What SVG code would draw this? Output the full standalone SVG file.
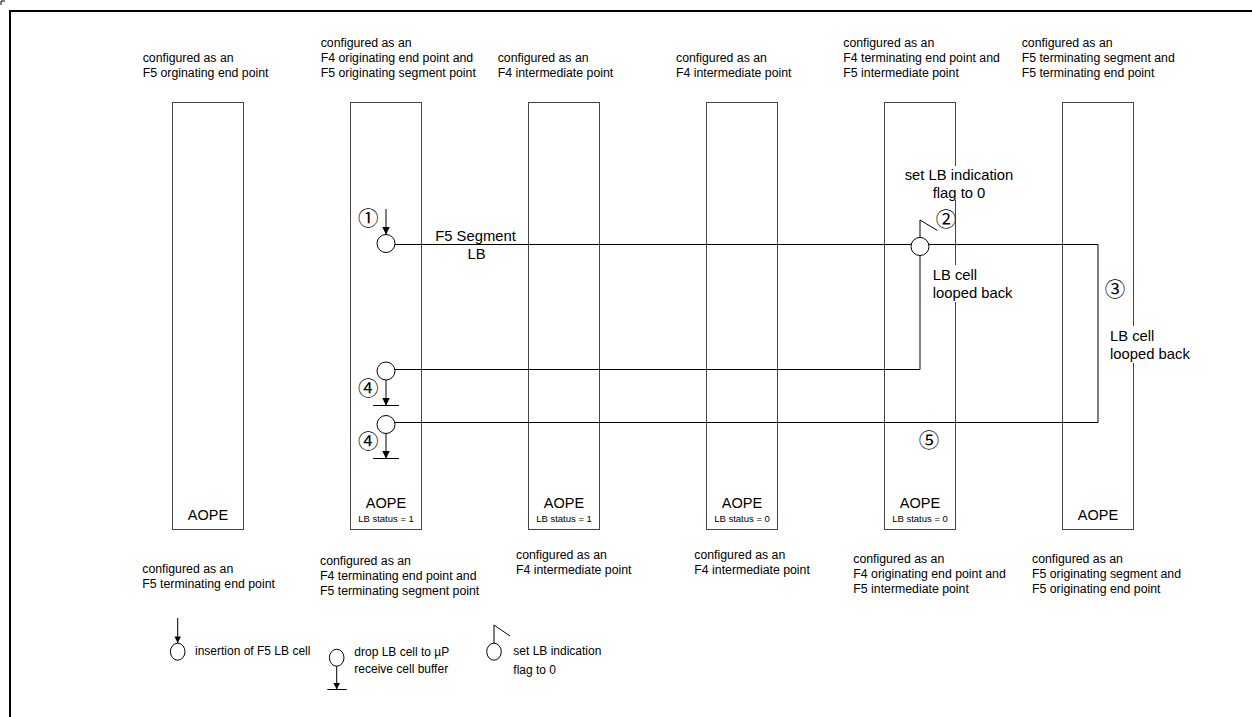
<svg xmlns="http://www.w3.org/2000/svg" width="1252" height="717" viewBox="0 0 1252 717">
<style>
.bar{fill:#fff;stroke:#444;stroke-width:1}
.t{font-family:"Liberation Sans",Arial,sans-serif;fill:#000}
.lbl{font-size:12.3px}
.mid{font-size:14.8px}
.aope{font-size:14.5px;text-anchor:middle}
.st{font-size:9.5px;text-anchor:middle}
.leg{font-size:12px}
.num{font-family:"Noto Sans CJK JP","DejaVu Sans",sans-serif;font-size:20.5px;text-anchor:middle;fill:#000}
.ln{fill:none;stroke:#000;stroke-width:1}
.node{fill:#fff;stroke:#000;stroke-width:1}
.wbg{fill:#fff}
</style>
<defs>
<marker id="ah" viewBox="0 0 10 10" refX="10" refY="5" markerUnits="userSpaceOnUse" markerWidth="11" markerHeight="7.5" orient="auto"><path d="M0,0L10,5L0,10z" fill="#000"/></marker>
<marker id="ahs" viewBox="0 0 10 10" refX="10" refY="5" markerUnits="userSpaceOnUse" markerWidth="9" markerHeight="6.5" orient="auto"><path d="M0,0L10,5L0,10z" fill="#000"/></marker>
</defs>
<rect width="1252" height="717" fill="#fff"/>
<path d="M10,717V11H1252" fill="none" stroke="#000" stroke-width="2"/>
<path d="M5,1H1V5" fill="none" stroke="#000" stroke-width="1"/>

<g id="ape1">
<rect class="bar" x="172.5" y="102.5" width="71" height="427"/>
<text class="t aope" x="208" y="519.5">AOPE</text>
<text class="t lbl" x="142.7"><tspan x="142.7" y="62">configured as an</tspan><tspan x="142.7" y="77">F5 orginating end point</tspan></text>
<text class="t lbl" x="142.3"><tspan x="142.3" y="572.5">configured as an</tspan><tspan x="142.3" y="587.5">F5 terminating end point</tspan></text>
</g>
<g id="ape2">
<rect class="bar" x="350.5" y="102.5" width="71" height="427"/>
<text class="t aope" x="386" y="508">AOPE</text>
<text class="t st" x="386" y="521.5">LB status = 1</text>
<text class="t lbl"><tspan x="320.7" y="47">configured as an</tspan><tspan x="320.7" y="62">F4 originating end point and</tspan><tspan x="320.7" y="77">F5 originating segment point</tspan></text>
<text class="t lbl"><tspan x="320" y="565">configured as an</tspan><tspan x="320" y="580">F4 terminating end point and</tspan><tspan x="320" y="595">F5 terminating segment point</tspan></text>
</g>
<g id="ape3">
<rect class="bar" x="528.5" y="102.5" width="71" height="427"/>
<text class="t aope" x="564" y="508">AOPE</text>
<text class="t st" x="564" y="521.5">LB status = 1</text>
<text class="t lbl"><tspan x="497.7" y="62">configured as an</tspan><tspan x="497.7" y="77">F4 intermediate point</tspan></text>
<text class="t lbl"><tspan x="516" y="558.5">configured as an</tspan><tspan x="516" y="573.5">F4 intermediate point</tspan></text>
</g>
<g id="ape4">
<rect class="bar" x="706.5" y="102.5" width="71" height="427"/>
<text class="t aope" x="742" y="508">AOPE</text>
<text class="t st" x="742" y="521.5">LB status = 0</text>
<text class="t lbl"><tspan x="676" y="62">configured as an</tspan><tspan x="676" y="77">F4 intermediate point</tspan></text>
<text class="t lbl"><tspan x="694.3" y="558.5">configured as an</tspan><tspan x="694.3" y="573.5">F4 intermediate point</tspan></text>
</g>
<g id="ape5">
<rect class="bar" x="884.5" y="102.5" width="71" height="427"/>
<text class="t aope" x="920" y="508">AOPE</text>
<text class="t st" x="920" y="521.5">LB status = 0</text>
<text class="t lbl"><tspan x="843.3" y="47">configured as an</tspan><tspan x="843.3" y="62">F4 terminating end point and</tspan><tspan x="843.3" y="77">F5 intermediate point</tspan></text>
<text class="t lbl"><tspan x="853.3" y="563">configured as an</tspan><tspan x="853.3" y="578">F4 originating end point and</tspan><tspan x="853.3" y="593">F5 intermediate point</tspan></text>
</g>
<g id="ape6">
<rect class="bar" x="1062.5" y="102.5" width="71" height="427"/>
<text class="t aope" x="1098" y="519.5">AOPE</text>
<text class="t lbl"><tspan x="1021.7" y="47">configured as an</tspan><tspan x="1021.7" y="62">F5 terminating segment and</tspan><tspan x="1021.7" y="77">F5 terminating end point</tspan></text>
<text class="t lbl"><tspan x="1032" y="563">configured as an</tspan><tspan x="1032" y="578">F5 originating segment and</tspan><tspan x="1032" y="593">F5 originating end point</tspan></text>
</g>

<g id="labels">
<rect class="wbg" x="903" y="166" width="112" height="34"/>
<text class="t mid" text-anchor="middle"><tspan x="959" y="180">set LB indication</tspan><tspan x="959" y="197.5">flag to 0</tspan></text>
<rect class="wbg" x="931" y="265" width="84" height="37"/>
<text class="t mid"><tspan x="932.7" y="280">LB cell</tspan><tspan x="932.7" y="297.5">looped back</tspan></text>
<rect class="wbg" x="1109" y="326" width="84" height="37"/>
<text class="t mid"><tspan x="1110" y="341">LB cell</tspan><tspan x="1110" y="358.5">looped back</tspan></text>
<text class="t mid" text-anchor="middle"><tspan x="475.5" y="241">F5 Segment</tspan><tspan x="476.5" y="258.5">LB</tspan></text>
<text class="num" x="368.3" y="226.3">①</text>
<text class="num" x="946" y="227">②</text>
<text class="num" x="1115" y="297">③</text>
<text class="num" x="368.3" y="395.7">④</text>
<text class="num" x="368.3" y="449">④</text>
<text class="num" x="929" y="448">⑤</text>
</g>

<g id="connectors">
<path class="ln" d="M395,244.5H1098V422.5H395"/>
<path class="ln" d="M920,255.5V369.5H395"/>
</g>

<g id="insert1">
<line class="ln" x1="386" y1="209" x2="386" y2="234.5" marker-end="url(#ah)"/>
<circle class="node" cx="386" cy="243.5" r="9"/>
</g>
<g id="flag2">
<polyline class="ln" points="920,237.5 920,220 937.5,230.5"/>
<circle class="node" cx="920" cy="246.5" r="9"/>
</g>
<g id="drop1">
<circle class="node" cx="386" cy="371" r="9"/>
<line class="ln" x1="386" y1="380" x2="386" y2="405.5" marker-end="url(#ah)"/>
<line class="ln" x1="373" y1="405.5" x2="399" y2="405.5"/>
</g>
<g id="drop2">
<circle class="node" cx="386" cy="424.5" r="9"/>
<line class="ln" x1="386" y1="433.5" x2="386" y2="458.5" marker-end="url(#ah)"/>
<line class="ln" x1="373" y1="458.5" x2="399" y2="458.5"/>
</g>

<g id="legend">
<line class="ln" x1="177.7" y1="618" x2="177.7" y2="643" marker-end="url(#ahs)"/>
<ellipse class="node" cx="177.7" cy="651.7" rx="7.3" ry="8.5"/>
<text class="t leg" x="195" y="654.5">insertion of F5 LB cell</text>
<ellipse class="node" cx="336.7" cy="657.7" rx="7.3" ry="8.5"/>
<line class="ln" x1="336.7" y1="666.2" x2="336.7" y2="689.5" marker-end="url(#ahs)"/>
<line class="ln" x1="327.3" y1="689.5" x2="346.7" y2="689.5"/>
<text class="t leg"><tspan x="354.3" y="655.5">drop LB cell to µP</tspan><tspan x="354.3" y="672.5">receive cell buffer</tspan></text>
<polyline class="ln" points="494,643.2 494,625 510,636"/>
<ellipse class="node" cx="494" cy="651.7" rx="7.3" ry="8.5"/>
<text class="t leg"><tspan x="513.3" y="654.5">set LB indication</tspan><tspan x="513.3" y="673.5">flag to 0</tspan></text>
</g>
</svg>
